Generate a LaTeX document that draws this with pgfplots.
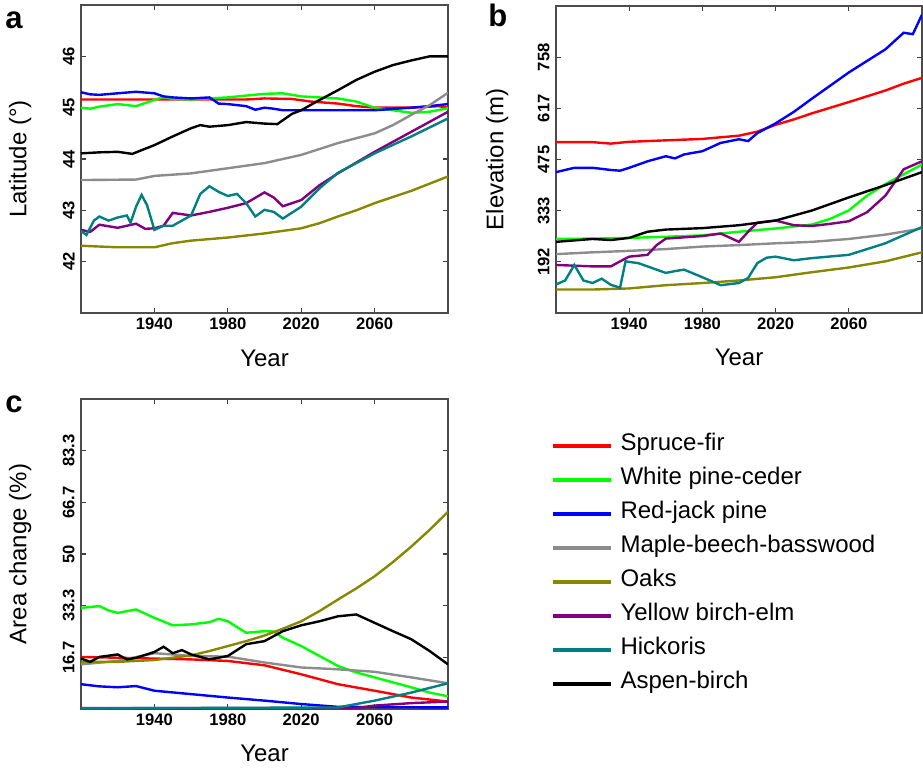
\documentclass[border=0pt]{standalone}
\usepackage{pgfplots}
\pgfplotsset{compat=1.18}
\usepackage{fontspec}
\setmainfont{Liberation Sans}

\definecolor{cSpruce}{RGB}{255,0,0}
\definecolor{cWhite}{RGB}{0,255,0}
\definecolor{cRedjack}{RGB}{0,0,255}
\definecolor{cMaple}{RGB}{140,140,140}
\definecolor{cOaks}{RGB}{135,135,0}
\definecolor{cYellow}{RGB}{128,0,128}
\definecolor{cHick}{RGB}{0,128,128}
\definecolor{cAspen}{RGB}{0,0,0}

\pgfplotsset{
  panel/.style={
    scale only axis,
    anchor=south west,
    xmin=1900, xmax=2100,
    xtick={1940,1980,2020,2060},
    xticklabels={1940,1980,2020,2060},
    tick align=inside,
    major tick length=2.5pt,
    tick style={black!75, line width=0.6pt},
    axis line style={black!70, line width=0.9pt},
    tick label style={font=\fontsize{8.3}{9}\selectfont\bfseries},
    /pgf/number format/assume math mode=true,
    xticklabel style={inner sep=1pt},
    xticklabel shift=1.5pt,
    yticklabel style={rotate=90, anchor=south, inner sep=1pt},
    yticklabel shift=2pt,
    label style={font=\fontsize{12}{14}\selectfont},
    every axis plot/.append style={line width=1.2pt, no markers},
  },
}

\begin{document}
\begin{tikzpicture}
\useasboundingbox (0,0) rectangle (461.5pt,384pt);

% panel a
\begin{axis}[panel,
  at={(40.5pt,227.5pt)}, width=183.5pt, height=154pt,
  ymin=41, ymax=47, ytick={42,43,44,45,46},
  xlabel={Year}, ylabel={Latitude (°)},
  xlabel style={at={(axis description cs:0.5,-0.146)}, anchor=center},
  ylabel style={at={(axis description cs:-0.166,0.5)}, anchor=center},
]
\addplot[cSpruce] coordinates {(1900,45.16)(1950,45.16)(1990,45.16)(2000,45.18)(2015,45.17)(2025,45.12)(2040,45.08)(2050,45.03)(2060,45.0)(2080,45.0)(2095,45.03)(2100,45.0)};
\addplot[cWhite] coordinates {(1900,45.0)(1905,44.98)(1910,45.02)(1920,45.07)(1930,45.03)(1940,45.15)(1945,45.21)(1950,45.17)(1960,45.16)(1980,45.2)(2000,45.27)(2010,45.28)(2020,45.22)(2030,45.2)(2040,45.18)(2050,45.12)(2060,45.0)(2070,44.95)(2080,44.9)(2090,44.92)(2100,44.99)};
\addplot[cRedjack] coordinates {(1900,45.3)(1905,45.26)(1910,45.25)(1920,45.28)(1930,45.31)(1940,45.28)(1945,45.22)(1950,45.2)(1960,45.18)(1970,45.2)(1975,45.08)(1980,45.07)(1990,45.03)(1995,44.96)(2000,45.0)(2005,44.98)(2010,44.95)(2040,44.95)(2060,44.95)(2080,45.0)(2090,45.03)(2100,45.07)};
\addplot[cMaple] coordinates {(1900,43.59)(1930,43.6)(1940,43.67)(1960,43.72)(1980,43.82)(2000,43.92)(2020,44.08)(2040,44.31)(2060,44.5)(2070,44.66)(2080,44.86)(2090,45.05)(2100,45.29)};
\addplot[cOaks] coordinates {(1900,42.31)(1920,42.28)(1940,42.28)(1950,42.36)(1960,42.41)(1980,42.47)(2000,42.55)(2020,42.65)(2030,42.75)(2040,42.88)(2050,43.0)(2060,43.14)(2070,43.26)(2080,43.38)(2090,43.52)(2100,43.66)};
\addplot[cYellow] coordinates {(1900,42.62)(1905,42.58)(1910,42.72)(1920,42.66)(1930,42.74)(1935,42.64)(1940,42.65)(1945,42.7)(1950,42.95)(1960,42.9)(1970,42.97)(1980,43.05)(1990,43.14)(2000,43.35)(2005,43.25)(2010,43.08)(2020,43.2)(2030,43.49)(2040,43.72)(2060,44.14)(2080,44.53)(2100,44.92)};
\addplot[cHick] coordinates {(1900,42.6)(1903,42.52)(1907,42.8)(1910,42.88)(1915,42.8)(1920,42.86)(1925,42.9)(1927,42.76)(1930,43.07)(1933,43.3)(1936,43.1)(1940,42.62)(1945,42.7)(1950,42.7)(1960,42.9)(1965,43.32)(1970,43.47)(1975,43.36)(1980,43.28)(1985,43.32)(1990,43.14)(1995,42.88)(2000,43.01)(2005,42.97)(2010,42.84)(2020,43.07)(2030,43.43)(2040,43.73)(2060,44.11)(2080,44.44)(2100,44.79)};
\addplot[cAspen] coordinates {(1900,44.11)(1910,44.13)(1920,44.14)(1928,44.1)(1935,44.2)(1940,44.27)(1950,44.44)(1960,44.6)(1965,44.66)(1970,44.63)(1980,44.66)(1990,44.72)(2000,44.69)(2007,44.68)(2015,44.88)(2020,44.95)(2030,45.15)(2040,45.34)(2050,45.54)(2060,45.7)(2070,45.83)(2080,45.92)(2090,46.0)(2100,46.0)};
\end{axis}

% panel b
\begin{axis}[panel,
  at={(278pt,227.5pt)}, width=183pt, height=153.5pt,
  ymin=50, ymax=900,
  ytick={191.667,333.333,475,616.667,758.333},
  yticklabels={192,333,475,617,758},
  xlabel={Year}, ylabel={Elevation (m)},
  xlabel style={at={(axis description cs:0.5,-0.146)}, anchor=center},
  ylabel style={at={(axis description cs:-0.161,0.5)}, anchor=center},
]
\addplot[cSpruce] coordinates {(1900,523)(1920,523)(1930,519)(1940,524)(1960,528)(1980,532)(2000,541)(2010,552)(2020,571)(2030,586)(2040,603)(2060,634)(2080,666)(2090,685)(2100,701)};
\addplot[cWhite] coordinates {(1900,255)(1920,256)(1940,258)(1960,261)(1980,265)(2000,275)(2020,284)(2040,295)(2050,311)(2060,334)(2070,375)(2080,407)(2090,434)(2100,461)};
\addplot[cRedjack] coordinates {(1900,440)(1910,452)(1920,452)(1930,446)(1935,444)(1940,452)(1950,470)(1960,484)(1965,478)(1970,489)(1980,498)(1990,521)(2000,531)(2005,526)(2010,548)(2020,575)(2030,607)(2040,644)(2050,680)(2060,716)(2070,748)(2080,780)(2090,826)(2095,822)(2100,876)};
\addplot[cMaple] coordinates {(1900,213)(1920,218)(1940,222)(1960,227)(1980,234)(2000,238)(2020,243)(2040,247)(2060,255)(2080,267)(2100,284)};
\addplot[cOaks] coordinates {(1900,115)(1920,115)(1940,118)(1960,127)(1980,133)(2000,140)(2020,149)(2040,163)(2060,176)(2080,193)(2100,218)};
\addplot[cYellow] coordinates {(1900,183)(1920,179)(1930,179)(1935,193)(1940,206)(1950,211)(1955,238)(1960,256)(1980,263)(1990,270)(2000,247)(2005,275)(2010,300)(2020,306)(2030,293)(2040,291)(2050,297)(2060,304)(2070,329)(2080,375)(2090,448)(2100,470)};
\addplot[cHick] coordinates {(1900,129)(1905,140)(1910,183)(1915,140)(1920,133)(1925,145)(1930,128)(1935,120)(1938,193)(1945,188)(1950,179)(1960,161)(1965,166)(1970,170)(1980,149)(1990,127)(2000,133)(2005,147)(2010,188)(2015,203)(2020,206)(2030,196)(2040,202)(2060,211)(2080,243)(2100,288)};
\addplot[cAspen] coordinates {(1900,247)(1920,255)(1930,252)(1940,258)(1950,275)(1960,281)(1980,285)(2000,293)(2020,306)(2040,334)(2060,370)(2080,404)(2100,440)};
\end{axis}

% panel c
\begin{axis}[panel,
  at={(40.5pt,29.5pt)}, width=183.5pt, height=155pt,
  ymin=0, ymax=100,
  ytick={16.667,33.333,50,66.667,83.333},
  yticklabels={16.7,33.3,50,66.7,83.3},
  xlabel={Year}, ylabel={Area change (\%)},
  xlabel style={at={(axis description cs:0.5,-0.142)}, anchor=center},
  ylabel style={at={(axis description cs:-0.166,0.5)}, anchor=center},
  legend cell align=left,
  legend image code/.code={\draw[#1, line width=2pt] (0pt,0pt) -- (29pt,0pt);},
  legend style={draw=none, fill=none, at={(axis description cs:1.262,0.918)}, anchor=north west,
    font=\fontsize{12}{14}\selectfont, row sep=0pt,
    nodes={inner sep=0pt, text height=11pt, text depth=6pt}, column sep=4pt},
]
\addplot[cSpruce] coordinates {(1900,16.8)(1960,16.0)(1980,15.5)(2000,14.1)(2020,11.2)(2040,8.0)(2060,5.9)(2080,3.7)(2100,2.4)};
\addlegendentry{Spruce-fir}
\addplot[cWhite] coordinates {(1900,32.6)(1910,33.2)(1915,31.8)(1920,31.0)(1930,32.1)(1940,29.4)(1950,27.0)(1960,27.3)(1970,28.0)(1975,29.1)(1980,28.3)(1990,24.6)(2000,25.1)(2005,25.0)(2010,23.0)(2020,20.3)(2030,17.1)(2040,13.9)(2050,11.8)(2060,10.2)(2070,8.6)(2080,7.0)(2090,5.3)(2100,4.1)};
\addlegendentry{White pine-ceder}
\addplot[cRedjack] coordinates {(1900,8.0)(1910,7.3)(1920,7.0)(1930,7.4)(1940,5.9)(1960,4.8)(1980,3.7)(2000,2.7)(2020,1.6)(2040,0.7)(2100,0.5)};
\addlegendentry{Red-jack pine}
\addplot[cMaple] coordinates {(1900,14.4)(1920,15.5)(1940,18.0)(1950,17.6)(1960,17.1)(1980,16.9)(2000,15.0)(2020,13.4)(2040,12.8)(2060,12.0)(2080,10.2)(2100,8.3)};
\addlegendentry{Maple-beech-basswood}
\addplot[cOaks] coordinates {(1900,15.2)(1920,15.2)(1940,15.8)(1960,17.3)(1970,18.7)(1980,20.3)(1990,21.9)(2000,23.7)(2010,25.9)(2020,28.3)(2030,31.6)(2040,35.3)(2050,38.9)(2060,42.8)(2070,47.4)(2080,52.4)(2090,57.8)(2100,63.6)};
\addlegendentry{Oaks}
\addplot[cYellow] coordinates {(1900,0.3)(2050,0.3)(2060,1.1)(2080,1.9)(2100,2.4)};
\addlegendentry{Yellow birch-elm}
\addplot[cHick] coordinates {(1900,0.2)(2040,0.5)(2060,2.7)(2080,5.3)(2100,8.3)};
\addlegendentry{Hickoris}
\addplot[cAspen] coordinates {(1900,16.3)(1905,15.2)(1910,16.8)(1920,17.6)(1925,16.0)(1930,16.5)(1940,18.4)(1945,20.1)(1950,18.0)(1955,19.0)(1960,17.6)(1970,16.0)(1980,17.1)(1990,20.9)(2000,21.9)(2010,25.1)(2020,27.0)(2030,28.3)(2040,29.9)(2050,30.5)(2060,27.8)(2070,25.1)(2080,22.5)(2090,18.7)(2100,14.4)};
\addlegendentry{Aspen-birch}
\end{axis}

\node[anchor=base west, font=\fontsize{15.5}{18}\selectfont\bfseries, inner sep=0pt] at (2.5pt,370pt) {a};
\node[anchor=base west, font=\fontsize{15.5}{18}\selectfont\bfseries, inner sep=0pt] at (244pt,370.5pt) {b};
\node[anchor=base west, font=\fontsize{15.5}{18}\selectfont\bfseries, inner sep=0pt] at (2.5pt,178pt) {c};
\end{tikzpicture}
\end{document}
